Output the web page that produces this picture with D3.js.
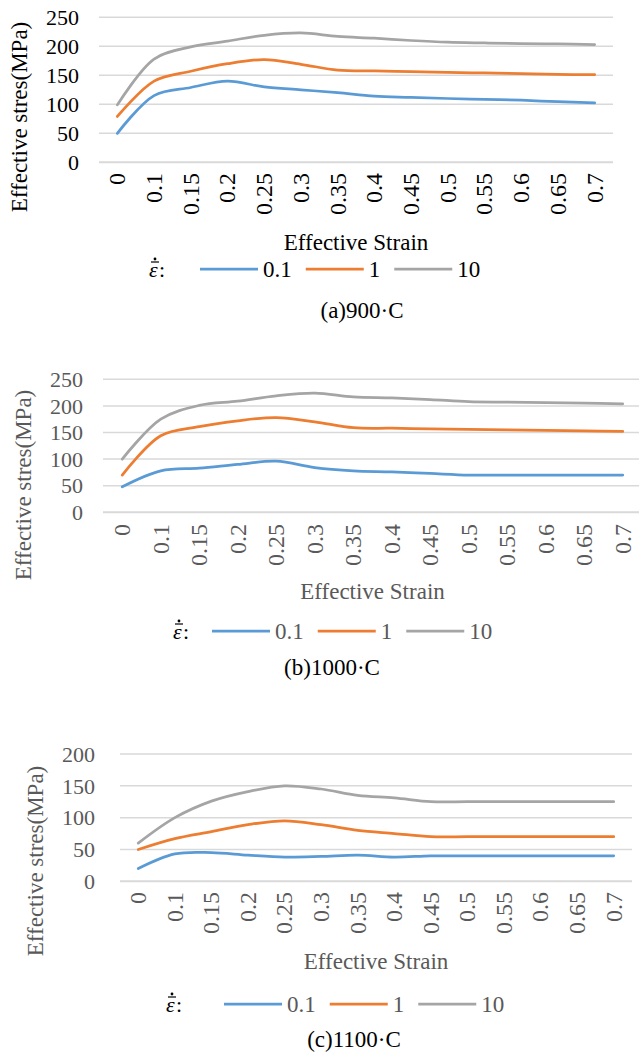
<!DOCTYPE html>
<html>
<head>
<meta charset="utf-8">
<script src="https://cdn.jsdelivr.net/npm/d3@7"></script>
<style>
  body { margin: 0; background: #fff; }
  svg { display: block; }
</style>
</head>
<body>
<script>

// strain categories (x axis)
var strain = ["0", "0.1", "0.15", "0.2", "0.25", "0.3", "0.35", "0.4", "0.45", "0.5", "0.55", "0.6", "0.65", "0.7"]

var rateLabels = ["0.1", "1", "10"]

// effective stress (MPa)
var s900_01 = [50, 115, 129, 140, 130, 125, 120, 114, 112, 110, 108.5, 107, 104.5, 102.5]
var s900_1 = [79, 140, 157, 170, 177, 169, 159, 157.5, 156.3, 155, 154, 153, 151.7, 151]
var s900_10 = [99, 178, 199, 209, 219, 223, 217, 214, 210, 207, 205.7, 204.6, 204, 203]

var s1000_01 = [48, 78, 83, 90, 96, 84, 78, 76, 73, 70, 70, 70, 70, 70]
var s1000_1 = [70, 144, 161, 172, 178, 170, 159, 158, 157, 156, 155, 154, 153, 152]
var s1000_10 = [100, 175, 201, 209, 219, 224, 217, 215, 212, 208, 207, 206, 205, 204]

var s1100_01 = [20, 43, 45, 41, 38, 39, 41, 38, 40, 40, 40, 40, 40, 40]
var s1100_1 = [50, 67, 78, 89, 95, 89, 80, 75, 70, 70, 70, 70, 70, 70]
var s1100_10 = [60, 100, 126, 141, 150, 145, 135, 131, 125, 125, 125, 125, 125, 125]

var yTicks900 = [0, 50, 100, 150, 200, 250]
var yTicks1000 = [0, 50, 100, 150, 200, 250]
var yTicks1100 = [0, 50, 100, 150, 200]

var colors = ["#5b9bd5", "#ed7d31", "#a5a5a5"]

var svg = d3.select("body").append("svg")
    .attr("width", 639)
    .attr("height", 1056)
    .attr("font-family", "'Liberation Serif', 'Times New Roman', serif")

var panels = [
    {series: [s900_01, s900_1, s900_10], ticks: yTicks900, caption: "(a)900·C", ink: "#000",
     left: 99, right: 613, top: 17.3, bottom: 162.3, tickX: 79, titleX: 19, titleY: 117,
     xLabTop: 173, xTitleY: 250, legY: 269, epsX: 149, legX: 200, capX: 362, capY: 318},
    {series: [s1000_01, s1000_1, s1000_10], ticks: yTicks1000, caption: "(b)1000·C", ink: "#595959",
     left: 103, right: 642, top: 379.3, bottom: 512.3, tickX: 83, titleX: 23, titleY: 485,
     xLabTop: 524, xTitleY: 599, legY: 631, epsX: 173, legX: 212, capX: 332, capY: 675},
    {series: [s1100_01, s1100_1, s1100_10], ticks: yTicks1100, caption: "(c)1100·C", ink: "#595959",
     left: 120, right: 632, top: 754, bottom: 881.3, tickX: 95, titleX: 35, titleY: 861,
     xLabTop: 892, xTitleY: 969, legY: 1004, epsX: 166, legX: 224, capX: 354, capY: 1047}
]

function drawPanel(p){

    var g = svg.append("g")

    var x = d3.scaleBand()
        .domain(strain)
        .range([p.left, p.right])

    var y = d3.scaleLinear()
        .domain([0, d3.max(p.ticks)])
        .range([p.bottom, p.top])

    // gridlines
    g.selectAll("line.grid")
        .data(p.ticks)
        .enter()
        .append("line")
        .attr("class", "grid")
        .attr("x1", p.left)
        .attr("x2", p.right)
        .attr("y1", (d) => {return y(d)})
        .attr("y2", (d) => {return y(d)})
        .attr("stroke", "#d9d9d9")
        .attr("stroke-width", (d) => {return d == 0 ? 2 : 1.5})

    // y tick labels
    g.selectAll("text.ytick")
        .data(p.ticks)
        .enter()
        .append("text")
        .attr("class", "ytick")
        .attr("x", p.tickX)
        .attr("y", (d) => {return y(d)})
        .attr("dy", "0.35em")
        .attr("text-anchor", "end")
        .attr("font-size", 22)
        .attr("fill", p.ink)
        .text((d) => {return d})

    // x tick labels, rotated
    g.selectAll("text.xtick")
        .data(strain)
        .enter()
        .append("text")
        .attr("class", "xtick")
        .attr("transform", (d) => {return "translate(" + (x(d) + x.bandwidth() / 2) + "," + p.xLabTop + ") rotate(-90)"})
        .attr("dy", "0.33em")
        .attr("text-anchor", "end")
        .attr("font-size", 24)
        .attr("fill", p.ink)
        .text((d) => {return d})

    // axis titles
    g.append("text")
        .attr("transform", "translate(" + p.titleX + "," + p.titleY + ") rotate(-90)")
        .attr("dy", "0.35em")
        .attr("text-anchor", "middle")
        .attr("font-size", 23)
        .attr("fill", p.ink)
        .text("Effective stres(MPa)")

    g.append("text")
        .attr("x", (p.left + p.right) / 2)
        .attr("y", p.xTitleY)
        .attr("text-anchor", "middle")
        .attr("font-size", 23)
        .attr("fill", p.ink)
        .text("Effective Strain")

    // series
    var line = d3.line()
        .x((d, i) => {return x(strain[i]) + x.bandwidth() / 2})
        .y((d) => {return y(d)})
        .curve(d3.curveCatmullRom.alpha(0.5))

    g.selectAll("path.series")
        .data(p.series)
        .enter()
        .append("path")
        .attr("class", "series")
        .attr("d", (d) => {return line(d)})
        .attr("fill", "none")
        .attr("stroke", (d, i) => {return colors[i]})
        .attr("stroke-width", 2.75)
        .attr("stroke-linecap", "round")

    // legend: strain-rate symbol (epsilon with a dot over it)
    g.append("text")
        .attr("x", p.epsX)
        .attr("y", p.legY + 8)
        .attr("font-size", 22)
        .attr("font-style", "italic")
        .attr("fill", "#000")
        .text("ε")
    g.append("line")
        .attr("x1", p.epsX + 2)
        .attr("x2", p.epsX + 10)
        .attr("y1", p.legY - 7)
        .attr("y2", p.legY - 7)
        .attr("stroke", "#000")
        .attr("stroke-width", 1.2)
    g.append("circle")
        .attr("cx", p.epsX + 6)
        .attr("cy", p.legY - 10)
        .attr("r", 1.4)
        .attr("fill", "#000")
    g.append("text")
        .attr("x", p.epsX + 10)
        .attr("y", p.legY + 8)
        .attr("font-size", 22)
        .attr("fill", "#000")
        .text(":")

    var lx = p.legX
    rateLabels.forEach((lab, i) => {
        g.append("line")
            .attr("x1", lx)
            .attr("x2", lx + 58)
            .attr("y1", p.legY)
            .attr("y2", p.legY)
            .attr("stroke", colors[i])
            .attr("stroke-width", 2.75)
        var t = g.append("text")
            .attr("x", lx + 63)
            .attr("y", p.legY)
            .attr("dy", "0.35em")
            .attr("font-size", 23)
            .attr("fill", p.ink)
            .text(lab)
        lx = lx + 63 + t.node().getComputedTextLength() + 14
    })

    // caption
    g.append("text")
        .attr("x", p.capX)
        .attr("y", p.capY)
        .attr("text-anchor", "middle")
        .attr("font-size", 23)
        .attr("fill", "#000")
        .text(p.caption)
}

panels.forEach(drawPanel)

</script>
</body>
</html>
